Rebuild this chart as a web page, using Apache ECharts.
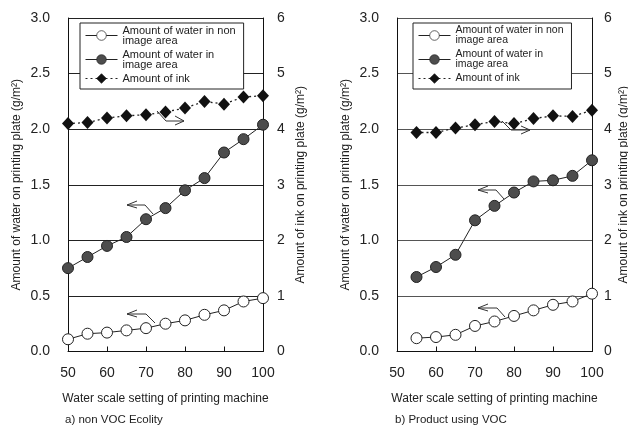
<!DOCTYPE html>
<html><head><meta charset="utf-8">
<script src="https://cdn.jsdelivr.net/npm/echarts@6/dist/echarts.min.js"></script>
<style>html,body{margin:0;padding:0;background:#fff}#c{width:628px;height:427px}</style>
</head><body><div id="c"></div>
<script>
// ---- data ----
const xA = [50, 55, 60, 65, 70, 75, 80, 85, 90, 95, 100];
const nonImageA = [0.11, 0.16, 0.17, 0.19, 0.21, 0.25, 0.28, 0.33, 0.37, 0.45, 0.48];
const imageA = [0.75, 0.85, 0.95, 1.03, 1.19, 1.29, 1.45, 1.56, 1.79, 1.91, 2.04];
const inkA = [4.10, 4.12, 4.20, 4.24, 4.26, 4.31, 4.38, 4.50, 4.45, 4.58, 4.60];

const xB = [55, 60, 65, 70, 75, 80, 85, 90, 95, 100];
const nonImageB = [0.12, 0.13, 0.15, 0.23, 0.27, 0.32, 0.37, 0.42, 0.45, 0.52];
const imageB = [0.67, 0.76, 0.87, 1.18, 1.31, 1.43, 1.53, 1.54, 1.58, 1.72];
const inkB = [3.94, 3.94, 4.02, 4.08, 4.14, 4.10, 4.19, 4.24, 4.23, 4.34];

const seriesNames = ['Amount of water in non\nimage area', 'Amount of water in\nimage area', 'Amount of ink'];
const waterAxisName = 'Amount of water on printing plate (g/m²)';
const inkAxisName = 'Amount of ink on printing plate (g/m²)';
const xAxisName = 'Water scale setting of printing machine';
const captions = ['a) non VOC Ecolity', 'b) Product using VOC'];

const pair = (xs, ys) => xs.map((x, i) => [x, ys[i]]);
const FONT = 'Liberation Sans, Arial, sans-serif';
const TXT = '#222';

function xAx(gi) {
  return {
    type: 'value', gridIndex: gi, min: 50, max: 100, interval: 10,
    axisLine: { show: true, lineStyle: { color: '#111', width: 1 } },
    axisTick: { show: true, inside: true, length: 5, lineStyle: { color: '#111' } },
    splitLine: { show: false },
    axisLabel: { fontFamily: FONT, fontSize: 14, color: TXT, margin: 15 },
    name: xAxisName, nameLocation: 'middle', nameGap: 41,
    nameTextStyle: { fontFamily: FONT, fontSize: 12, color: TXT }
  };
}
function yWater(gi, gridColor, gap) {
  return {
    type: 'value', gridIndex: gi, min: 0, max: 3, interval: 0.5, position: 'left',
    axisLine: { show: true, lineStyle: { color: '#111', width: 1 } },
    axisTick: { show: false },
    splitLine: { show: true, lineStyle: { color: gridColor, width: 1 } },
    axisLabel: { fontFamily: FONT, fontSize: 14, color: TXT, margin: 18, formatter: v => v.toFixed(1) },
    name: waterAxisName, nameLocation: 'middle', nameGap: gap, nameRotate: 90,
    nameTextStyle: { fontFamily: FONT, fontSize: 12, color: TXT }
  };
}
function yInk(gi, gap, margin) {
  return {
    type: 'value', gridIndex: gi, min: 0, max: 6, interval: 1, position: 'right',
    axisLine: { show: true, lineStyle: { color: '#111', width: 1 } },
    axisTick: { show: false },
    splitLine: { show: false },
    axisLabel: { fontFamily: FONT, fontSize: 14, color: TXT, margin: margin },
    name: inkAxisName, nameLocation: 'middle', nameGap: gap, nameRotate: 90,
    nameTextStyle: { fontFamily: FONT, fontSize: 12, color: TXT }
  };
}
function seriesFor(xi, yw, yi, xs, non, img, ink) {
  return [
    { name: seriesNames[0], type: 'line', xAxisIndex: xi, yAxisIndex: yw, data: pair(xs, non),
      symbol: 'circle', symbolSize: 11, lineStyle: { color: '#222', width: 1 },
      itemStyle: { color: '#fff', borderColor: '#222', borderWidth: 1 }, z: 3 },
    { name: seriesNames[1], type: 'line', xAxisIndex: xi, yAxisIndex: yw, data: pair(xs, img),
      symbol: 'circle', symbolSize: 11, lineStyle: { color: '#222', width: 1 },
      itemStyle: { color: '#4d4d4d', borderColor: '#222', borderWidth: 1 }, z: 3 },
    { name: seriesNames[2], type: 'line', xAxisIndex: xi, yAxisIndex: yi, data: pair(xs, ink),
      symbol: 'diamond', symbolSize: [12, 13], lineStyle: { color: '#222', width: 1.3, type: [2, 3] },
      itemStyle: { color: '#111', borderColor: '#111', borderWidth: 0 }, z: 3 }
  ];
}
function legendAt(left, fs) {
  return {
    orient: 'vertical', left: left, top: 23, itemWidth: 32, itemHeight: 12, itemGap: 3,
    padding: [2, 8, 5, 5], backgroundColor: '#fff', borderColor: '#222', borderWidth: 1, borderRadius: 0,
    textStyle: { fontFamily: FONT, fontSize: fs, color: TXT, lineHeight: 10 },
    itemStyle: { borderWidth: 0.7 },
    lineStyle: { width: 1 },
    data: seriesNames, selectedMode: false, z: 10
  };
}
function arrow(points, head) {
  return [
    { type: 'polyline', shape: { points: points }, style: { stroke: '#333', lineWidth: 1, fill: null }, z: 20 },
    { type: 'polyline', shape: { points: head }, style: { stroke: '#333', lineWidth: 1, fill: null }, z: 20 }
  ];
}

const chart = echarts.init(document.getElementById('c'), null, { renderer: 'canvas' });
const option = {
  backgroundColor: '#fff',
  animation: false,
  grid: [
    { left: 68, top: 18, width: 195, height: 333.5, containLabel: false, outerBoundsMode: 'none' },
    { left: 397, top: 18, width: 195, height: 333.5, containLabel: false, outerBoundsMode: 'none' }
  ],
  xAxis: [xAx(0), xAx(1)],
  yAxis: [yWater(0, '#222', 45), yInk(0, 32, 14), yWater(1, '#555', 45), yInk(1, 26, 12)],
  legend: [legendAt(80, 11), legendAt(413, 10.5)],
  series: [].concat(
    seriesFor(0, 0, 1, xA, nonImageA, imageA, inkA),
    seriesFor(1, 2, 3, xB, nonImageB, imageB, inkB)
  ),
  graphic: [].concat(
    // left chart arrows
    arrow([[157, 111], [166, 121], [184, 121]], [[175, 116], [184, 121], [175, 125]]),
    arrow([[153, 214], [145, 205], [127, 205]], [[137, 201], [127, 205], [137, 208]]),
    arrow([[155, 323], [146, 314], [127, 314]], [[137, 310], [127, 314], [137, 317]]),
    // right chart arrows
    arrow([[502, 121], [511, 130], [530, 130]], [[521, 126], [530, 130], [521, 134]]),
    arrow([[504, 199], [496, 190], [478, 190]], [[488, 186], [478, 190], [488, 193]]),
    arrow([[505, 317], [497, 308], [478, 308]], [[488, 304], [478, 308], [488, 311]]),
    [
      { type: 'text', left: 65, top: 414, style: { text: captions[0], font: '11.5px ' + FONT, fill: TXT } },
      { type: 'text', left: 395, top: 414, style: { text: captions[1], font: '11.5px ' + FONT, fill: TXT } }
    ]
  )
};
chart.setOption(option);
</script>
</body></html>
